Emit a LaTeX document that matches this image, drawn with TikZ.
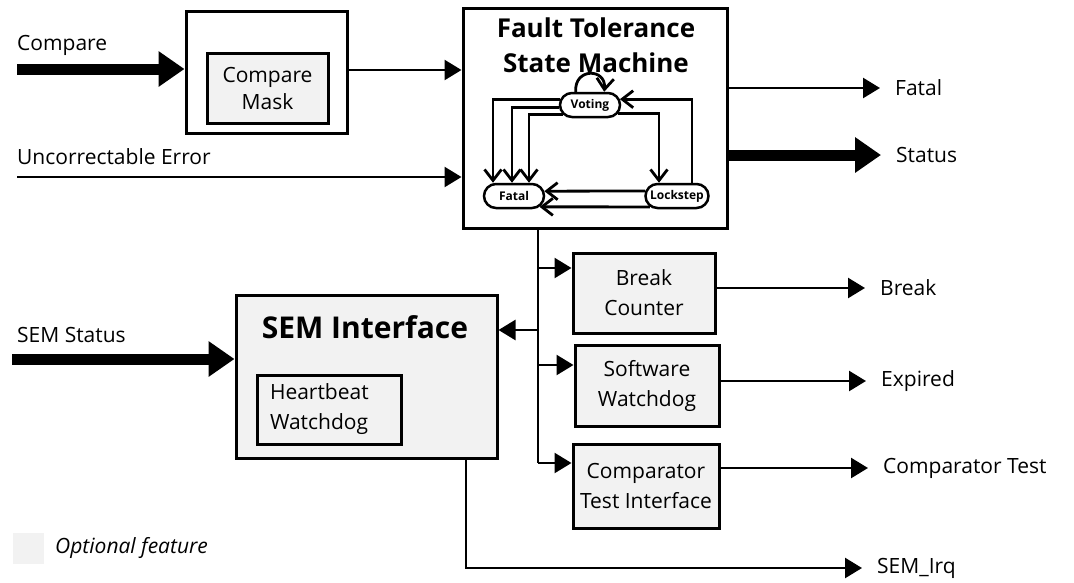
\documentclass[tikz,border=0pt]{standalone}
\usepackage{fontspec}
\setmainfont{Open Sans}
\usetikzlibrary{arrows.meta,shapes.misc}
\definecolor{optgray}{HTML}{F2F2F2}
\tikzstyle{block} = [rectangle, draw=black, line width=3pt, text centered, align=center]
\tikzstyle{optional} = [block, fill=optgray]
\tikzstyle{state} = [rounded rectangle, draw=black, line width=2.5pt, minimum height=24pt, inner xsep=3pt, inner ysep=0pt, font=\bfseries\fontsize{12}{14}\selectfont]
\tikzstyle{arrow} = [line width=2.5pt, -{Triangle[length=17pt,width=20pt]}]
\tikzstyle{bigarrow} = [line width=11pt, -{Triangle[length=26pt,width=34pt]}]
\tikzstyle{sarrow} = [line width=2.8pt, -{Straight Barb[length=11pt,width=17pt]}]
\tikzstyle{line} = [line width=2.5pt]
\tikzstyle{inlabel} = [anchor=west, inner sep=0pt]
\tikzstyle{outlabel} = [anchor=west, inner xsep=15pt, inner ysep=0pt]

\begin{document}
\begin{tikzpicture}[x=1pt,y=-1pt,font=\fontsize{21}{30}\selectfont]
	\useasboundingbox (0,0) rectangle (1074,582);

	% compare mask
	\node (cmpbox) [block, minimum width=161pt, minimum height=122pt] at (266.5,72) {};
	\node (cmpmask) [optional, minimum width=121pt, minimum height=70pt, font=\fontsize{21}{27}\selectfont] at (267.5,88) {Compare\\Mask};

	% fault tolerance state machine
	\node (ft) [block, minimum width=264pt, minimum height=220pt] at (595,118) {};
	\node (fttitle) [font=\bfseries\fontsize{26}{35}\selectfont, align=center] at (596,45) {Fault Tolerance\\State Machine};
	\node (vot) [state, minimum width=66pt] at (590,105) {Voting};
	\node (fat) [state, minimum width=66pt] at (514,196) {Fatal};
	\node (lck) [state, minimum width=69pt] at (677,196) {Lockstep};

	% optional blocks
	\node (brk) [optional, minimum width=142pt, minimum height=80pt] at (644,293) {Break\\Counter};
	\node (swd) [optional, minimum width=144pt, minimum height=81pt] at (647,385.5) {Software\\Watchdog};
	\node (cti) [optional, minimum width=146pt, minimum height=84pt] at (646,486) {Comparator\\Test Interface};
	\node (sem) [optional, minimum width=261pt, minimum height=163pt] at (366.5,376.5) {};
	\node (semtitle) [font=\bfseries\fontsize{30}{35}\selectfont] at (365,327) {SEM Interface};
	\node (hbw) [block, minimum width=144pt, minimum height=69pt, text width=118pt, align=left] at (329,409.5) {Heartbeat\\Watchdog};

	% inputs
	\coordinate (cmpin) at (17,69);
	\coordinate (ucein) at (17,177);
	\coordinate (semin) at (12,359);
	\node (cmplbl) [inlabel] at (17,45) {Compare};
	\node (ucelbl) [inlabel] at (17,157) {Uncorrectable Error};
	\node (semlbl) [inlabel] at (17,335) {SEM Status};

	% outputs
	\node (fatalo) [outlabel] at (880,88) {Fatal};
	\node (stato) [outlabel] at (881,155) {Status};
	\node (brko) [outlabel] at (865,288) {Break};
	\node (expo) [outlabel] at (866,381) {Expired};
	\node (ctio) [outlabel] at (868,468) {Comparator Test};
	\node (irqo) [outlabel] at (862,568) {SEM\_Irq};

	% bus
	\coordinate (bustop) at (538,228);
	\coordinate (busend) at (538,463);
	\coordinate (semtap) at (538,330);
	\coordinate (brktap) at (538,268);
	\coordinate (swdtap) at (538,365);
	\coordinate (irqtop) at (466,458);

	% legend
	\node (leg) [fill=optgray, minimum size=31pt, inner sep=0pt] at (28.5,548.5) {};
	\node (leglbl) [inlabel, font=\itshape\fontsize{21}{30}\selectfont] at (55,548) {Optional feature};

	\draw [bigarrow] (cmpin) -- (cmpin -| cmpbox.west);
	\draw [arrow] (cmpbox.east |- 0,70) -- (ft.west |- 0,70);
	\draw [arrow] (ucein) -- (ucein -| ft.west);
	\draw [bigarrow] (semin) -- (semin -| sem.west);

	\draw [arrow] (fatalo -| ft.east) -- (fatalo);
	\draw [bigarrow] (stato -| ft.east) -- (stato);

	\draw [line] (bustop) -- (busend);
	\draw [arrow] (brktap) -- (brktap -| brk.west);
	\draw [arrow] (swdtap) -- (swdtap -| swd.west);
	\draw [arrow] (busend) -- (busend -| cti.west);
	\draw [arrow] (semtap) -- (semtap -| sem.east);

	\draw [arrow] (brko -| brk.east) -- (brko);
	\draw [arrow] (expo -| swd.east) -- (expo);
	\draw [arrow] (ctio -| cti.east) -- (ctio);
	\draw [arrow] (irqtop) |- (irqo);

	% state machine transitions
	\draw [sarrow] (vot.137) .. controls +(-2,-24) and +(2,-24) .. (vot.43);
	\draw [sarrow] (vot.169) -| ([xshift=-21pt]fat.north);
	\draw [sarrow] (vot.184) -| ([xshift=-2pt]fat.north);
	\draw [sarrow] (vot.200) -| ([xshift=15pt]fat.north);
	\draw [sarrow] (vot.343) -| ([xshift=-18pt]lck.north);
	\draw [sarrow] ([xshift=15pt]lck.north) |- (vot.11);
	\draw [sarrow] (lck.171) -- (fat.9);
	\draw [sarrow] (lck.202) -- (fat.337);
\end{tikzpicture}
\end{document}
